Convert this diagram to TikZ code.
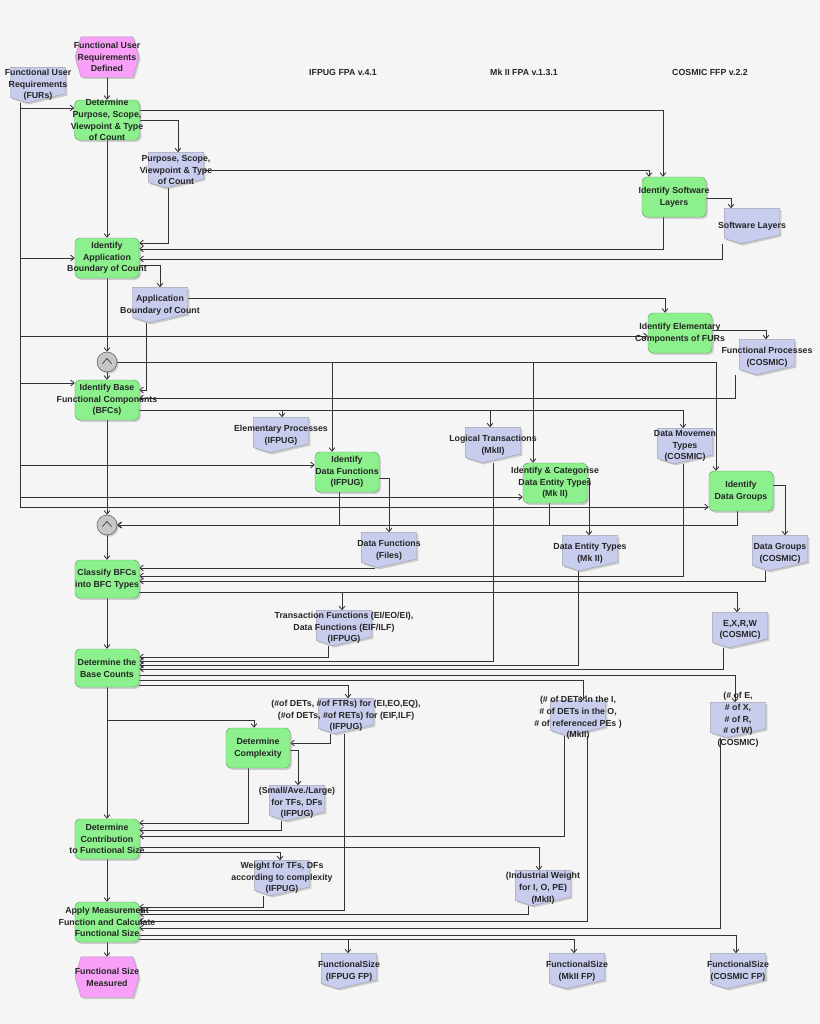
\documentclass[tikz,border=0pt]{standalone}
\usepackage{fontspec}
\setmainfont{Liberation Sans}
\usetikzlibrary{positioning,arrows.meta,shadows,calc}

\definecolor{procgreen}{RGB}{140,240,140}
\definecolor{docblue}{RGB}{200,205,238}
\definecolor{evpink}{RGB}{248,160,248}
\definecolor{bgcol}{RGB}{245,245,245}

\pgfdeclarelayer{back}
\pgfdeclarelayer{wires}
\pgfsetlayers{back,wires,main}

\tikzset{
  lbl/.style={font=\fontsize{7.5}{10}\selectfont\bfseries, text=black!85, align=center, inner sep=0pt},
  shad/.style={drop shadow={opacity=.35, shadow xshift=1.5pt, shadow yshift=-1.5pt}},
  proc/.style={draw=green!40!black!60, fill=procgreen, rounded corners=4pt, minimum width=1.92cm, minimum height=1.2cm, inner sep=0pt, shad},
  docbox/.style={minimum width=1.65cm, minimum height=1.05cm, inner sep=0pt},
  docfill/.style={fill=docblue, draw=docblue!60!black!70, line width=.4pt, shad},
  evbox/.style={minimum width=1.9cm, minimum height=1.2cm, inner sep=0pt},
  evfill/.style={fill=evpink, draw=evpink!60!black!70, line width=.4pt, shad},
  andnode/.style={circle, minimum size=0.6cm, inner sep=0pt, fill=gray!45, draw=black!70, shad,
    path picture={\draw[black!75, line width=.6pt]
      ([shift={(-4pt,-1.5pt)}]path picture bounding box.center) --
      ([shift={(0pt,3pt)}]path picture bounding box.center) --
      ([shift={(4pt,-1.5pt)}]path picture bounding box.center);}},
  wire/.style={draw=black!80, line width=.7pt},
  arr/.style={wire, -{Straight Barb[length=3pt,width=5pt]}},
}

% process box, document and event shapes
\newcommand\proc[4][]{\node[proc,#1] (#2) at (#3) {}; \node[lbl] (#2t) at (#2) {#4};}
\newcommand\docu[3]{%
  \node[docbox] (#1) at (#2) {};
  \filldraw[docfill] (#1.north west) -- (#1.north east) -- ($(#1.south east)!0.25!(#1.north east)$)
    -- ($(#1.south west)!0.3!(#1.south east)$) -- ($(#1.south west)!0.15!(#1.north west)$) -- cycle;
  \node[lbl] (#1t) at (#1) {#3};}
\newcommand\event[3]{%
  \node[evbox] (#1) at (#2) {};
  \filldraw[evfill] ($(#1.north west)+(6,0)$) -- ($(#1.north east)+(-6,0)$) -- (#1.east)
    -- ($(#1.south east)+(-6,0)$) -- ($(#1.south west)+(6,0)$) -- (#1.west) -- cycle;
  \node[lbl] (#1t) at (#1) {#3};}

\begin{document}
\begin{tikzpicture}[x=0.03cm,y=-0.03cm]
  \useasboundingbox (0,0) rectangle (820,1024);
  \begin{pgfonlayer}{back}
    \fill[bgcol] (0,0) rectangle (820,1024);
  \end{pgfonlayer}

  % column headers
  \node[lbl] (hifpug)  at (343,72) {IFPUG FPA v.4.1};
  \node[lbl] (hmkii)   at (524,72) {Mk II FPA v.1.3.1};
  \node[lbl] (hcosmic) at (710,72) {COSMIC FFP v.2.2};

  % events
  \event{E1}{107,57}{Functional User\\Requirements\\Defined}
  \event{E2}{107,977}{Functional Size\\Measured}

  % processes
  \proc[minimum width=1.95cm]{P1}{107,120}{Determine\\Purpose, Scope,\\Viewpoint \& Type\\of Count}
  \proc{P2}{107,258}{Identify\\Application\\Boundary of Count}
  \proc{P3}{674,197}{Identify Software\\Layers}
  \proc{P4}{680,333}{Identify Elementary\\Components of FURs}
  \proc{P5}{107,400}{Identify Base\\Functional Components\\(BFCs)}
  \proc{P6}{347,472}{Identify\\Data Functions\\(IFPUG)}
  \proc{P7}{555,483}{Identify \& Categorise\\Data Entity Types\\(Mk II)}
  \proc{P8}{741,491}{Identify\\Data Groups}
  \proc[minimum height=1.14cm]{P9}{107,579}{Classify BFCs\\into BFC Types}
  \proc[minimum height=1.14cm]{P10}{107,668}{Determine the\\Base Counts}
  \proc{P11}{258,748}{Determine\\Complexity}
  \proc{P12}{107,839}{Determine\\Contribution\\to Functional Size}
  \proc{P13}{107,922}{Apply Measurement\\Function and Calculate\\Functional Size}

  % AND connectors
  \node[andnode] (A1) at (107,362) {};
  \node[andnode] (A2) at (107,525) {};

  % documents
  \docu{D1}{38,85}{Functional User\\Requirements\\(FURs)}
  \docu{D2}{176,170}{Purpose, Scope,\\Viewpoint \& Type\\of Count}
  \docu{D3}{752,226}{Software Layers}
  \docu{D4}{160,305}{Application\\Boundary of Count}
  \docu{D5}{767,357}{Functional Processes\\(COSMIC)}
  \docu{D6}{281,435}{Elementary Processes\\(IFPUG)}
  \docu{D7}{493,445}{Logical Transactions\\(MkII)}
  \docu{D8}{685,446}{Data Movemen\\Types\\(COSMIC)}
  \docu{D9}{389,550}{Data Functions\\(Files)}
  \docu{D10}{590,553}{Data Entity Types\\(Mk II)}
  \docu{D11}{780,553}{Data Groups\\(COSMIC)}
  \docu{D12}{344,628}{Transaction Functions (EI/EO/EI),\\Data Functions (EIF/ILF)\\(IFPUG)}
  \docu{D13}{740,630}{E,X,R,W\\(COSMIC)}
  \docu{D14}{346,716}{(\#of DETs, \#of FTRs) for (EI,EO,EQ),\\(\#of DETs, \#of RETs) for (EIF,ILF)\\(IFPUG)}
  \docu{D15}{578,718}{(\# of DETs in the I,\\\# of DETs in the O,\\\# of referenced PEs )\\(MkII)}
  \docu{D16}{738,720}{(\# of E,\\\# of X,\\\# of R,\\\# of W)\\(COSMIC)}
  \docu{D17}{297,803}{(Small/Ave./Large)\\for TFs, DFs\\(IFPUG)}
  \docu{D18}{282,878}{Weight for TFs, DFs\\according to complexity\\(IFPUG)}
  \docu{D19}{543,888}{(Industrial Weight\\for I, O, PE)\\(MkII)}
  \docu{D20}{349,971}{FunctionalSize\\(IFPUG FP)}
  \docu{D21}{577,971}{FunctionalSize\\(MkII FP)}
  \docu{D22}{738,971}{FunctionalSize\\(COSMIC FP)}

  \begin{pgfonlayer}{wires}
    % main flow
    \draw[arr] (E1) -- (P1);
    \draw[arr] (P1) -- (P2);
    \draw[arr] (P2) -- (A1);
    \draw[arr] (A1) -- (P5);
    \draw[arr] (P5) -- (A2);
    \draw[arr] (A2) -- (P9);
    \draw[arr] (P9) -- (P10);
    \draw[arr] (P10) -- (P12);
    \draw[arr] (P12) -- (P13);
    \draw[arr] (P13) -- (E2);

    % FURs rail
    \draw[arr] (D1.south -| 20,0) |- (P1.west |- 0,108);
    \draw[arr] (D1.south -| 20,0) |- (P2.west);
    \draw[arr] (D1.south -| 20,0) |- (P4.west |- 0,336);
    \draw[arr] (D1.south -| 20,0) |- (P5.west |- 0,383);
    \draw[arr] (D1.south -| 20,0) |- (P6.west |- 0,465);
    \draw[arr] (D1.south -| 20,0) |- (P7.west |- 0,497);
    \draw[arr] (D1.south -| 20,0) |- (P8.west |- 0,507);

    % purpose, layers, boundary
    \draw[arr] (P1.east |- 0,110) -| (P3.north -| 663,0);
    \draw[arr] (P1.east |- 0,120) -| (D2.north -| 178,0);
    \draw[arr] (D2.east) -| (P3.north -| 649,0);
    \draw[arr] (D2.south -| 168,0) |- (P2.east |- 0,243);
    \draw[arr] (P3.south -| 663,0) |- (P2.east |- 0,249);
    \draw[arr] (P3.east |- 0,198) -| (D3.north -| 731,0);
    \draw[arr] (D3.south -| 722,0) |- (P2.east |- 0,259);
    \draw[arr] (P2.east |- 0,265) -| (D4.north -| 160,0);
    \draw[arr] (D4.east |- 0,298) -| (P4.north -| 665,0);
    \draw[arr] (D4.south -| 146,0) |- (P5.east |- 0,390);
    \draw[arr] (P4.east |- 0,330) -| (D5.north -| 766,0);
    \draw[arr] (D5.south -| 735,0) |- (P5.east |- 0,398);

    % base functional components
    \draw[arr] (A1.east) -| (P6.north -| 332,0);
    \draw[arr] (A1.east) -| (P7.north -| 533,0);
    \draw[arr] (A1.east) -| (P8.north -| 716,0);
    \draw[arr] (P5.east |- 0,410) -| (D6.north -| 282,0);
    \draw[arr] (P5.east |- 0,410) -| (D7.north -| 490,0);
    \draw[arr] (P5.east |- 0,410) -| (D8.north -| 683,0);
    \draw[arr] (P6.east |- 0,478) -| (D9.north -| 389,0);
    \draw[arr] (P7.east |- 0,478) -| (D10.north -| 589,0);
    \draw[arr] (P8.east |- 0,485) -| (D11.north -| 785,0);
    \draw[arr] (P6.south -| 339,0) |- (A2.east);
    \draw[arr] (P7.south -| 549,0) |- (A2.east);
    \draw[arr] (P8.south -| 737,0) |- (A2.east);

    % classification
    \draw[arr] (D9.south -| 374,0) |- (P9.east |- 0,568);
    \draw[arr] (D8.south -| 683,0) |- (P9.east |- 0,576);
    \draw[arr] (D11.south -| 765,0) |- (P9.east |- 0,581);
    \draw[arr] (P9.east |- 0,592) -| (D12.north -| 342,0);
    \draw[arr] (P9.east |- 0,592) -| (D13.north -| 737,0);

    % base counts
    \draw[arr] (D12.south -| 328,0) |- (P10.east |- 0,657);
    \draw[arr] (D7.south -| 493,0) |- (P10.east |- 0,661);
    \draw[arr] (D10.south -| 578,0) |- (P10.east |- 0,665);
    \draw[arr] (D13.south -| 723,0) |- (P10.east |- 0,669);
    \draw[arr] (P10.east |- 0,675) -| (D16.north -| 735,0);
    \draw[arr] (P10.east |- 0,680) -| (D15.north -| 583,0);
    \draw[arr] (P10.east |- 0,685) -| (D14.north -| 348,0);

    % complexity and contribution
    \draw[arr] (P10.south |- 0,720) -| (P11.north -| 254,0);
    \draw[arr] (D14.south -| 330,0) |- (P11.east |- 0,743);
    \draw[arr] (P11.east |- 0,750) -| (D17.north -| 298,0);
    \draw[arr] (P11.south -| 248,0) |- (P12.east |- 0,823);
    \draw[arr] (D17.south -| 281,0) |- (P12.east |- 0,830);
    \draw[arr] (D15.south -| 564,0) |- (P12.east |- 0,836);
    \draw[arr] (P12.east |- 0,847) -| (D19.north -| 539,0);
    \draw[arr] (P12.east |- 0,852) -| (D18.north -| 280,0);

    % measurement function
    \draw[arr] (D18.south -| 263,0) |- (P13.east |- 0,907);
    \draw[arr] (D14.south -| 344,0) |- (P13.east |- 0,910);
    \draw[arr] (D19.south -| 528,0) |- (P13.east |- 0,914);
    \draw[arr] (D15.south -| 587,0) |- (P13.east |- 0,921);
    \draw[arr] (D16.south -| 720,0) |- (P13.east |- 0,928);
    \draw[arr] (P13.east |- 0,935) -| (D22.north -| 736,0);
    \draw[arr] (P13.east |- 0,939) -| (D20.north -| 348,0);
    \draw[arr] (P13.east |- 0,939) -| (D21.north -| 574,0);
  \end{pgfonlayer}
\end{tikzpicture}
\end{document}
